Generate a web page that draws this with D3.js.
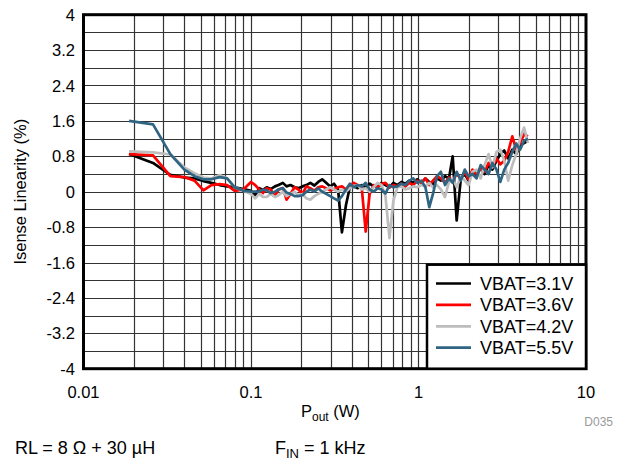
<!DOCTYPE html>
<html>
<head>
<meta charset="utf-8">
<script src="https://cdn.jsdelivr.net/npm/d3@7"></script>
<style>
  body { margin: 0; background: #fff; }
  text { font-family: "Liberation Sans", Arial, sans-serif; }
</style>
</head>
<body>
<div id="chart"></div>
<script>
const width = 624, height = 464;
const plot = { left: 83.5, right: 586, top: 14.7, bottom: 368.7 };

// output power (W), shared by all four sweeps
const pout = [0.0187, 0.026, 0.033, 0.04, 0.046, 0.052, 0.058, 0.065, 0.072, 0.08, 0.09, 0.1,
  0.106, 0.112, 0.118, 0.124, 0.131, 0.139, 0.146, 0.155, 0.163, 0.172, 0.182, 0.192,
  0.203, 0.214, 0.226, 0.239, 0.252, 0.266, 0.281, 0.297, 0.313, 0.331, 0.349, 0.369,
  0.389, 0.411, 0.434, 0.458, 0.484, 0.511, 0.54, 0.57, 0.602, 0.635, 0.671, 0.708,
  0.748, 0.79, 0.834, 0.881, 0.93, 0.982, 1.04, 1.1, 1.16, 1.22, 1.29, 1.36,
  1.44, 1.52, 1.6, 1.69, 1.79, 1.89, 1.99, 2.1, 2.22, 2.35, 2.48, 2.62,
  2.76, 2.92, 3.08, 3.25, 3.43, 3.63, 3.83, 4.04, 4.27, 4.5];

const vbat31 = [0.85, 0.65, 0.38, 0.32, 0.30, 0.24, 0.20, 0.15, 0.12, 0.10, 0.06, 0.02,
  -0.08, 0.08, 0.04, 0.10, 0.06, 0.12, 0.15, 0.20, 0.12, 0.15, 0.10, 0.08,
  0.12, 0.15, 0.20, 0.14, 0.22, 0.28, 0.20, 0.12, 0.18, 0.05, -0.92, -0.30,
  0.10, 0.12, 0.08, 0.15, 0.10, 0.18, 0.12, 0.10, 0.20, 0.15, 0.10, 0.20,
  0.15, 0.22, 0.18, 0.25, 0.20, 0.28, 0.20, 0.30, 0.22, 0.15, 0.30, 0.25,
  0.35, 0.30, 0.80, -0.65, 0.30, 0.40, 0.25, 0.45, 0.35, 0.55, 0.40, 0.60,
  0.50, 0.70, 0.85, 0.93, 0.75, 0.95, 0.85, 1.05, 1.10, 1.15];

const vbat36 = [0.85, 0.82, 0.35, 0.33, 0.25, 0.03, 0.15, 0.17, 0.15, 0.02, 0.05, 0.22,
  0.15, 0.05, -0.03, 0.08, 0.05, -0.10, 0.05, 0.08, -0.18, -0.05, 0.10, 0.05,
  -0.05, 0.12, 0.08, 0.02, 0.10, 0.12, 0.08, 0.03, 0.06, 0.10, 0.12, 0.05,
  0.15, 0.20, 0.15, 0.10, -0.90, -0.05, 0.15, 0.10, 0.18, 0.20, 0.10, 0.15,
  0.12, 0.18, 0.12, 0.20, 0.15, 0.25, 0.20, 0.30, 0.15, 0.25, 0.35, 0.30,
  0.20, 0.32, 0.25, 0.40, 0.30, 0.45, 0.28, 0.50, 0.40, 0.52, 0.45, 0.65,
  0.55, 0.75, 0.62, 0.70, 0.90, 1.25, 0.95, 1.10, 1.30, 1.25];

const vbat42 = [0.91, 0.89, 0.84, 0.55, 0.42, 0.32, 0.30, 0.38, 0.30, 0.10, 0.02, -0.05,
  -0.15, -0.05, -0.12, -0.12, -0.05, -0.12, -0.08, 0.00, -0.10, -0.05, 0.00, -0.08,
  -0.05, -0.15, -0.18, -0.10, -0.05, 0.00, 0.05, 0.10, 0.05, 0.00, 0.05, 0.00,
  0.08, 0.12, 0.15, 0.05, 0.08, 0.00, 0.10, 0.20, 0.15, -0.10, -1.05, -0.20,
  0.10, 0.12, 0.05, 0.08, 0.12, 0.10, 0.15, 0.12, 0.20, 0.10, 0.15, 0.05,
  -0.12, 0.22, 0.30, 0.10, 0.35, 0.25, 0.15, 0.45, 0.50, 0.30, 0.60, 0.85,
  0.55, 0.90, 0.95, 0.70, 0.25, 0.60, 0.85, 1.20, 1.45, 1.10];

const vbat55 = [1.60, 1.52, 0.85, 0.50, 0.35, 0.28, 0.28, 0.33, 0.30, 0.10, 0.02, 0.00,
  0.00, 0.00, 0.05, 0.03, -0.03, 0.00, 0.05, 0.08, -0.02, -0.05, -0.10, -0.10,
  -0.08, 0.00, 0.05, 0.00, 0.08, 0.00, -0.05, -0.10, -0.15, -0.20, -0.10, 0.05,
  0.18, 0.10, 0.15, 0.12, 0.20, 0.05, 0.00, 0.08, 0.05, -0.04, 0.15, 0.10,
  0.12, 0.18, 0.15, 0.25, 0.30, 0.20, 0.25, 0.10, -0.35, -0.05, 0.35, 0.45,
  0.15, 0.30, 0.20, 0.45, 0.25, 0.50, 0.35, 0.40, 0.30, 0.60, 0.50, 0.40,
  0.65, 0.50, 0.22, 0.50, 0.65, 0.90, 1.09, 0.95, 1.15, 1.20];

const seriesNames = ["VBAT=3.1V", "VBAT=3.6V", "VBAT=4.2V", "VBAT=5.5V"];
const seriesValues = [vbat31, vbat36, vbat42, vbat55];
const seriesColors = ["#000000", "#ff0000", "#bdbdbd", "#2f6582"];

const xTicks = [0.01, 0.1, 1, 10];
const xTickLabels = ["0.01", "0.1", "1", "10"];
const yTicks = [-4, -3.2, -2.4, -1.6, -0.8, 0, 0.8, 1.6, 2.4, 3.2, 4];

const svg = d3.select("#chart").append("svg")
  .attr("width", width)
  .attr("height", height);

const x = d3.scaleLog().domain([0.01, 10]).range([plot.left, plot.right]);
const y = d3.scaleLinear().domain([-4, 4]).range([plot.bottom, plot.top]);

// grid: log minor lines and every 0.4 horizontally
const grid = svg.append("g").attr("stroke", "#333").attr("stroke-width", 1.2);
const vLines = [];
[0.01, 0.1, 1].forEach(d => { for (let k = 1; k <= 9; k++) vLines.push(d * k); });
grid.selectAll(".v").data(vLines.filter(v => v > 0.01)).join("line")
  .attr("x1", d => Math.round(x(d)) + 0.5).attr("x2", d => Math.round(x(d)) + 0.5)
  .attr("y1", plot.top).attr("y2", plot.bottom);
const hLines = d3.range(-9, 10).map(i => i * 0.4);
grid.selectAll(".h").data(hLines).join("line")
  .attr("x1", plot.left).attr("x2", plot.right)
  .attr("y1", d => Math.round(y(d)) + 0.5).attr("y2", d => Math.round(y(d)) + 0.5);

// curves
const line = d3.line()
  .x((d, i) => x(pout[i]))
  .y(d => y(d));

svg.append("g").selectAll("path")
  .data(seriesValues)
  .join("path")
  .attr("fill", "none")
  .attr("stroke", (d, i) => seriesColors[i])
  .attr("stroke-width", 2.7)
  .attr("stroke-linejoin", "round")
  .attr("d", line);

// frame
svg.append("rect")
  .attr("x", plot.left).attr("y", plot.top)
  .attr("width", plot.right - plot.left).attr("height", plot.bottom - plot.top)
  .attr("fill", "none").attr("stroke", "#000").attr("stroke-width", 3);

// axes labels
svg.append("g").selectAll("text").data(yTicks).join("text")
  .attr("x", 75).attr("y", d => y(d) + 6)
  .attr("text-anchor", "end").attr("font-size", 16.5)
  .text(d => d);

svg.append("g").selectAll("text").data(xTicks).join("text")
  .attr("x", d => x(d)).attr("y", 398)
  .attr("text-anchor", "middle").attr("font-size", 16.5)
  .text((d, i) => xTickLabels[i]);

svg.append("text")
  .attr("transform", `translate(26,${(plot.top + plot.bottom) / 2}) rotate(-90)`)
  .attr("text-anchor", "middle").attr("font-size", 16.5)
  .text("Isense Linearity (%)");

const xt = svg.append("text")
  .attr("x", 301).attr("y", 417).attr("font-size", 16.5);
xt.append("tspan").text("P");
xt.append("tspan").attr("font-size", 12).attr("dy", 4).text("out");
xt.append("tspan").attr("dy", -4).text(" (W)");

svg.append("text")
  .attr("x", 613).attr("y", 426).attr("text-anchor", "end")
  .attr("font-size", 12).attr("fill", "#999")
  .text("D035");

// legend
const lg = svg.append("g");
lg.append("rect")
  .attr("x", 427).attr("y", 264.7)
  .attr("width", plot.right - 427).attr("height", plot.bottom - 264.7)
  .attr("fill", "#fff").attr("stroke", "#000").attr("stroke-width", 2.5);
const rows = lg.selectAll("g").data(seriesNames).join("g")
  .attr("transform", (d, i) => `translate(0,${283.5 + i * 21.4})`);
rows.append("line")
  .attr("x1", 436).attr("x2", 471)
  .attr("stroke", (d, i) => seriesColors[i]).attr("stroke-width", 2.7);
rows.append("text")
  .attr("x", 480).attr("y", 6.5).attr("font-size", 18)
  .text(d => d);

// conditions
svg.append("text")
  .attr("x", 15).attr("y", 454).attr("font-size", 18)
  .text("RL = 8 \u03A9 + 30 \u00B5H");
const fin = svg.append("text")
  .attr("x", 275).attr("y", 454).attr("font-size", 18);
fin.append("tspan").text("F");
fin.append("tspan").attr("font-size", 13).attr("dy", 4).text("IN");
fin.append("tspan").attr("dy", -4).text(" = 1 kHz");
</script>
</body>
</html>
